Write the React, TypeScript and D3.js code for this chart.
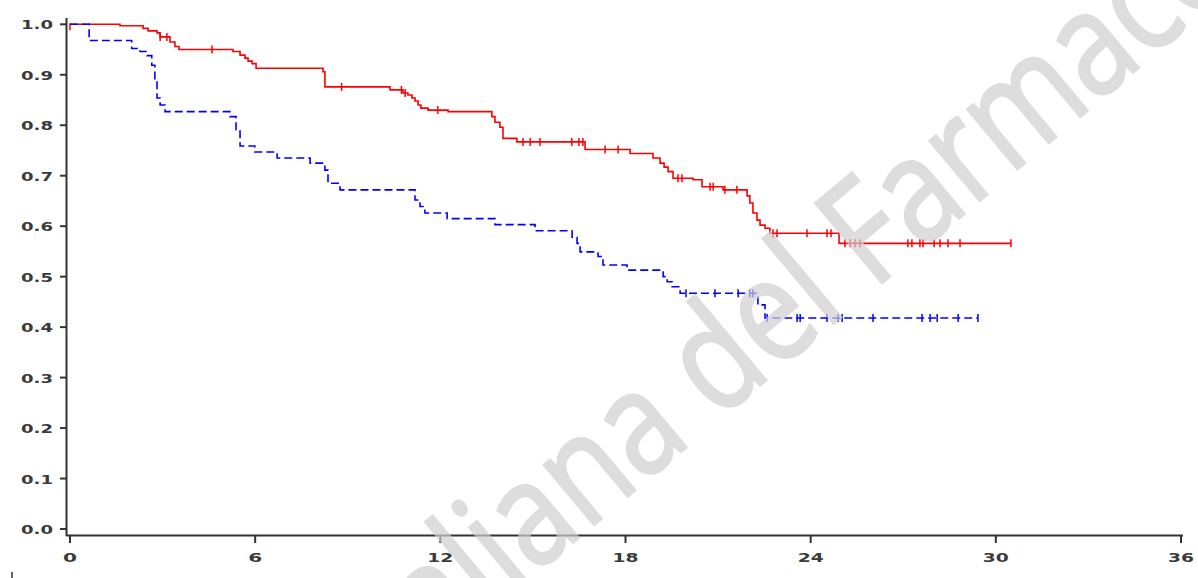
import React from "react";
import * as d3 from "d3";

// ---- data (months, survival probability) ----
const redStepTimes = [1.62, 2.37, 2.53, 2.82, 2.92, 3.24, 3.40, 3.53, 5.28, 5.51, 5.67, 5.77, 5.90, 6.03, 8.20, 8.26, 10.37, 10.79, 10.95, 11.08, 11.18, 11.28, 11.37, 11.60, 12.25, 13.67, 13.77, 13.93, 14.03, 14.48, 16.69, 18.15, 18.89, 19.12, 19.25, 19.38, 19.54, 20.19, 20.48, 21.16, 21.94, 22.03, 22.13, 22.26, 22.36, 22.52, 22.68, 24.92];
const redStepSurv = [0.997, 0.992, 0.987, 0.983, 0.975, 0.965, 0.956, 0.950, 0.946, 0.939, 0.933, 0.927, 0.922, 0.913, 0.906, 0.876, 0.870, 0.864, 0.860, 0.854, 0.848, 0.840, 0.834, 0.830, 0.827, 0.817, 0.806, 0.796, 0.774, 0.767, 0.752, 0.744, 0.735, 0.725, 0.717, 0.708, 0.695, 0.692, 0.678, 0.672, 0.660, 0.646, 0.626, 0.612, 0.602, 0.596, 0.586, 0.566];
const redCensor = [2.92, 3.14, 4.60, 8.80, 10.74, 10.86, 11.92, 14.68, 14.91, 15.23, 16.26, 16.49, 16.62, 17.34, 17.76, 19.70, 19.83, 20.74, 20.84, 21.22, 21.61, 22.78, 22.91, 23.88, 24.53, 24.66, 25.11, 25.28, 25.44, 25.60, 27.15, 27.28, 27.54, 27.64, 28.00, 28.19, 28.45, 28.84, 30.49];
const redEnd = 30.49;

const blueStepTimes = [0.62, 2.00, 2.27, 2.50, 2.65, 2.75, 2.82, 2.92, 3.08, 5.18, 5.38, 5.51, 5.99, 6.71, 7.78, 8.26, 8.36, 8.75, 11.18, 11.34, 11.50, 12.22, 13.77, 15.07, 16.27, 16.43, 16.53, 17.11, 17.27, 18.05, 19.22, 19.35, 19.51, 19.77, 22.29, 22.52];
const blueStepSurv = [0.968, 0.952, 0.946, 0.938, 0.919, 0.890, 0.854, 0.840, 0.827, 0.817, 0.791, 0.759, 0.747, 0.735, 0.725, 0.711, 0.685, 0.672, 0.652, 0.639, 0.626, 0.615, 0.603, 0.591, 0.578, 0.566, 0.549, 0.540, 0.523, 0.513, 0.500, 0.490, 0.480, 0.467, 0.444, 0.418];
const blueCensor = [19.96, 20.90, 21.65, 22.03, 22.13, 22.59, 23.56, 23.66, 24.53, 24.89, 25.02, 26.02, 27.61, 27.87, 28.10, 28.78, 29.42];
const blueEnd = 29.42;

const xTicks = [0, 6, 12, 18, 24, 30, 36];
const yTicks = [0, 0.1, 0.2, 0.3, 0.4, 0.5, 0.6, 0.7, 0.8, 0.9, 1.0];
const watermark = "Agenzia Italiana del Farmaco";

const W = 1198;
const H = 578;

const x = d3.scaleLinear().domain([0, 36]).range([70, 1181]);
const y = d3.scaleLinear().domain([0, 1]).range([529, 24.3]);

function survAt(times: number[], surv: number[], t: number) {
  let s = 1;
  for (let i = 0; i < times.length; i++) if (times[i] <= t) s = surv[i];
  return s;
}

function stepPath(times: number[], surv: number[], end: number) {
  const pts: [number, number][] = [[0, 1]];
  times.forEach((t, i) => pts.push([t, surv[i]]));
  pts.push([end, surv[surv.length - 1]]);
  const line = d3
    .line<[number, number]>()
    .x((d) => x(d[0]))
    .y((d) => y(d[1]))
    .curve(d3.curveStepAfter);
  return line(pts) || "";
}

const fmt = d3.format(".1f");

export default function App() {
  const redPath = stepPath(redStepTimes, redStepSurv, redEnd);
  const bluePath = stepPath(blueStepTimes, blueStepSurv, blueEnd);
  const axisColor = "#333";
  const labelFont = "'DejaVu Sans', sans-serif";
  return (
    <svg
      width={W}
      height={H}
      style={{ position: "absolute", left: 0, top: 0, background: "#fff" }}
    >
      <rect width={W} height={H} fill="#fff" />
      {/* axes */}
      <line x1={66.5} x2={66.5} y1={18} y2={536} stroke={axisColor} strokeWidth={2} />
      <line x1={66} x2={1183} y1={535.5} y2={535.5} stroke={axisColor} strokeWidth={2} />
      {yTicks.map((v) => (
        <g key={"y" + v}>
          <line x1={60} x2={66} y1={y(v)} y2={y(v)} stroke={axisColor} strokeWidth={2} />
          <text
            x={21}
            y={y(v) + 5}
            fontFamily={labelFont}
            fontWeight="bold"
            fontSize={13}
            fill="#3a3a3a"
            textLength={32}
            lengthAdjust="spacingAndGlyphs"
          >
            {fmt(v)}
          </text>
        </g>
      ))}
      {xTicks.map((v) => {
        const w = String(v).length === 1 ? 14 : 26;
        return (
          <g key={"x" + v}>
            <line x1={x(v)} x2={x(v)} y1={536} y2={543} stroke={axisColor} strokeWidth={2} />
            <text
              x={x(v) - w / 2}
              y={562}
              fontFamily={labelFont}
              fontWeight="bold"
              fontSize={13}
              fill="#3a3a3a"
              textLength={w}
              lengthAdjust="spacingAndGlyphs"
            >
              {v}
            </text>
          </g>
        );
      })}
      <line x1={12} x2={12} y1={572} y2={578} stroke="#333" strokeWidth={1.5} />

      {/* curves */}
      <path d={redPath} fill="none" stroke="#ff0000" strokeWidth={1.6} />
      <line x1={x(0)} x2={x(0)} y1={y(1) - 1} y2={y(1) + 6} stroke="#ff0000" strokeWidth={1.5} />
      {redCensor.map((t, i) => {
        const s = survAt(redStepTimes, redStepSurv, t);
        return (
          <line key={"rc" + i} x1={x(t)} x2={x(t)} y1={y(s) - 4} y2={y(s) + 4} stroke="#ff0000" strokeWidth={1.5} />
        );
      })}
      <path d={bluePath} fill="none" stroke="#0000ff" strokeWidth={1.6} strokeDasharray="8,4" />
      {blueCensor.map((t, i) => {
        const s = survAt(blueStepTimes, blueStepSurv, t);
        return (
          <line key={"bc" + i} x1={x(t)} x2={x(t)} y1={y(s) - 4} y2={y(s) + 4} stroke="#0000ff" strokeWidth={1.5} />
        );
      })}

      {/* watermark */}
      <text
        x={0}
        y={0}
        transform="translate(20,1006) rotate(-40) scale(0.83,1)"
        fontFamily="'Open Sans', sans-serif"
        fontSize={145}
        fill="#cfcfcf"
        stroke="#cfcfcf"
        strokeWidth={3}
        opacity={0.7}
      >
        {watermark}
      </text>
    </svg>
  );
}
